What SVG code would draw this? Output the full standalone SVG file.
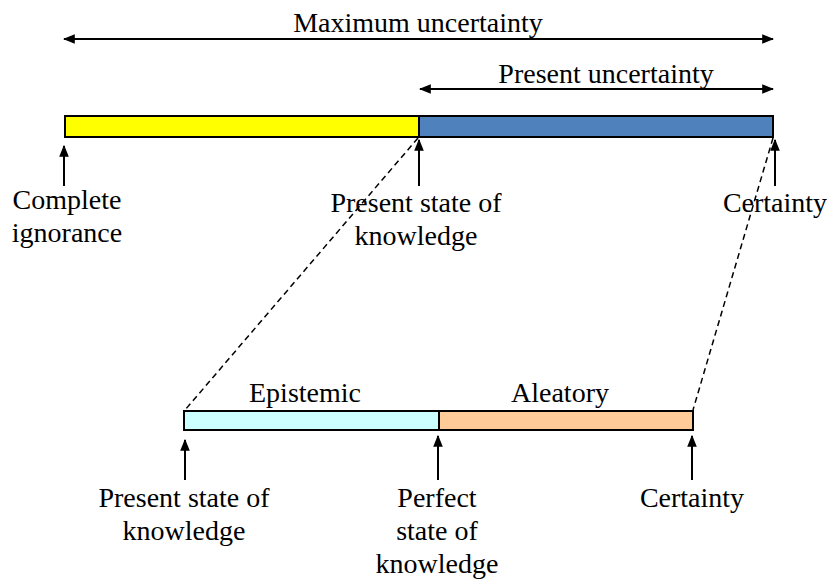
<svg xmlns="http://www.w3.org/2000/svg" width="827" height="579" viewBox="0 0 827 579">
  <style>
    .lbl { font-family: 'Liberation Serif', 'Times New Roman', Times, 'DejaVu Serif', serif; font-size: 28px; fill: #000; text-anchor: middle; }
    .bar { stroke: #000; stroke-width: 2; }
    .arrow { stroke: #000; stroke-width: 2; fill: none; }
    .dash { stroke: #000; stroke-width: 1.5; stroke-dasharray: 6 4; fill: none; }
  </style>
  <defs>
    <marker id="head" viewBox="0 0 10 10" refX="9" refY="5" markerWidth="6" markerHeight="6" markerUnits="strokeWidth" orient="auto-start-reverse">
      <path d="M0,1 L10,5 L0,9 Z" fill="#000"/>
    </marker>
  </defs>

  <!-- connectors: span arrows, pointer arrows, dashed zoom lines -->
  <g id="connectors">
    <line class="arrow" x1="64" y1="39" x2="773" y2="39" marker-start="url(#head)" marker-end="url(#head)"/>
    <line class="arrow" x1="420" y1="89" x2="773" y2="89" marker-start="url(#head)" marker-end="url(#head)"/>
    <line class="arrow" x1="64" y1="186" x2="64" y2="146" marker-end="url(#head)"/>
    <line class="arrow" x1="419" y1="186" x2="419" y2="140" marker-end="url(#head)"/>
    <line class="arrow" x1="775" y1="186" x2="775" y2="140" marker-end="url(#head)"/>
    <line class="arrow" x1="185" y1="480" x2="185" y2="440" marker-end="url(#head)"/>
    <line class="arrow" x1="438" y1="480" x2="438" y2="436" marker-end="url(#head)"/>
    <line class="arrow" x1="692" y1="480" x2="692" y2="436" marker-end="url(#head)"/>
    <line class="dash" x1="418" y1="138" x2="185" y2="410"/>
    <line class="dash" x1="773" y1="138" x2="693" y2="410"/>
  </g>

  <g id="top-bar">
    <rect class="bar" x="65" y="116" width="354" height="21" fill="#ffff00"/>
    <rect class="bar" x="419" y="116" width="354" height="21" fill="#4f81bd"/>
  </g>

  <g id="bottom-bar">
    <rect class="bar" x="184" y="411" width="255" height="19" fill="#ccffff"/>
    <rect class="bar" x="439" y="411" width="254" height="19" fill="#ffcc99"/>
  </g>

  <g class="lbl" font-family="Liberation Serif, serif">
    <g id="label-maximum"><text x="418" y="32">Maximum uncertainty</text></g>
    <g id="label-present"><text x="606" y="83">Present uncertainty</text></g>
    <g id="label-ignorance"><text x="67" y="209">Complete</text><text x="67" y="242">ignorance</text></g>
    <g id="label-present-state"><text x="416" y="212">Present state of</text><text x="416" y="245">knowledge</text></g>
    <g id="label-certainty-top"><text x="775" y="212">Certainty</text></g>
    <g id="label-epistemic"><text x="305" y="402">Epistemic</text></g>
    <g id="label-aleatory"><text x="560" y="402">Aleatory</text></g>
    <g id="label-present-state-2"><text x="184" y="507">Present state of</text><text x="184" y="540">knowledge</text></g>
    <g id="label-perfect"><text x="437" y="507">Perfect</text><text x="437" y="540">state of</text><text x="437" y="573">knowledge</text></g>
    <g id="label-certainty-bottom"><text x="692" y="507">Certainty</text></g>
  </g>
</svg>
